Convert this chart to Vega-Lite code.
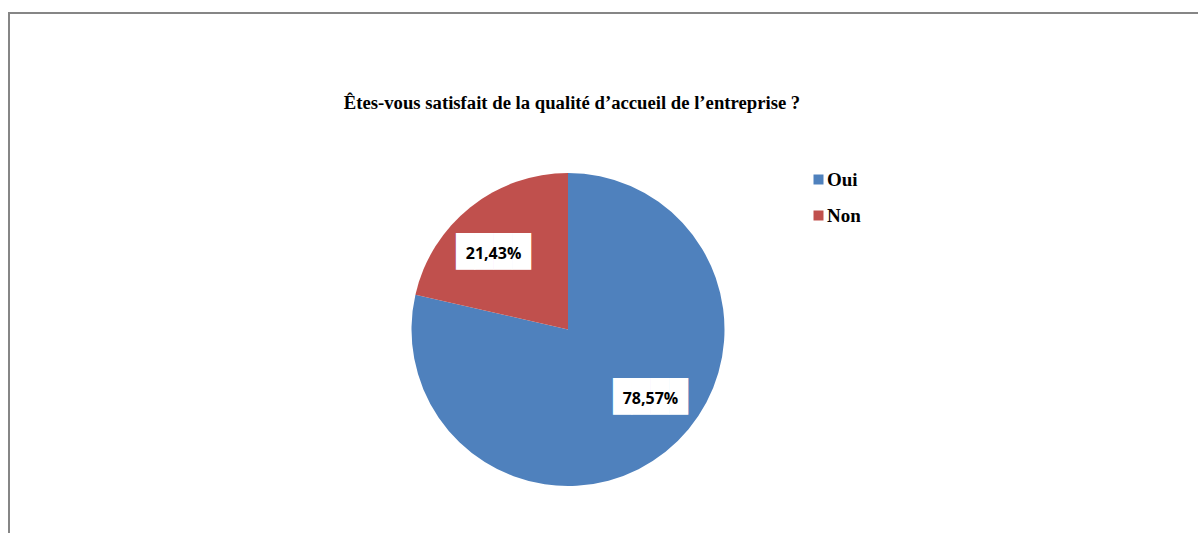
{
  "$schema": "https://vega.github.io/schema/vega-lite/v6.json",
  "autosize": {"type": "none"},
  "padding": {"left": 9, "top": 13, "right": 0, "bottom": 0},
  "width": 1200,
  "height": 640,
  "background": "white",
  "view": {"stroke": "#868686", "strokeWidth": 2, "fill": "white"},
  "title": {
    "text": "Êtes-vous satisfait de la qualité d’accueil de l’entreprise ?",
    "font": "Liberation Serif",
    "fontSize": 18.7,
    "fontWeight": "bold",
    "color": "black",
    "anchor": "middle",
    "frame": "group",
    "offset": 0,
    "dx": -37,
    "dy": 100
  },
  "data": {
    "values": [
      {"reponse": "Oui", "pct": 78.57, "ordre": 1, "etiquette": "78,57%"},
      {"reponse": "Non", "pct": 21.43, "ordre": 2, "etiquette": "21,43%"}
    ]
  },
  "encoding": {
    "theta": {"field": "pct", "type": "quantitative", "stack": true},
    "order": {"field": "ordre", "type": "quantitative"},
    "detail": {"field": "reponse", "type": "nominal"}
  },
  "layer": [
    {
      "mark": {"type": "arc", "outerRadius": 156.5, "xOffset": -41, "yOffset": -3.5, "strokeWidth": 0},
      "encoding": {
        "color": {
          "field": "reponse",
          "type": "nominal",
          "scale": {"domain": ["Oui", "Non"], "range": ["#4F81BD", "#C0504D"]},
          "legend": {
            "title": null,
            "orient": "none",
            "legendX": 800,
            "legendY": 157,
            "padding": 0,
            "symbolType": "square",
            "symbolSize": 100,
            "symbolStrokeWidth": 0,
            "symbolOpacity": 1,
            "labelFont": "Liberation Serif",
            "labelFontSize": 19,
            "labelFontWeight": "bold",
            "labelColor": "black",
            "labelOffset": -1,
            "rowPadding": 16
          }
        }
      }
    },
    {
      "mark": {"type": "text", "radius": 107, "thetaOffset": -0.15, "xOffset": -37, "yOffset": -6.5, "text": "████", "font": "DejaVu Sans Mono", "fontSize": 31, "color": "white", "baseline": "alphabetic", "dy": 8, "align": "center"}
    },
    {
      "mark": {"type": "text", "radius": 107, "thetaOffset": -0.15, "xOffset": -37, "yOffset": -6.5, "font": "Open Sans", "fontSize": 16, "fontWeight": "bold", "color": "black", "baseline": "middle", "align": "center"},
      "encoding": {"text": {"field": "etiquette", "type": "nominal"}}
    }
  ]
}
